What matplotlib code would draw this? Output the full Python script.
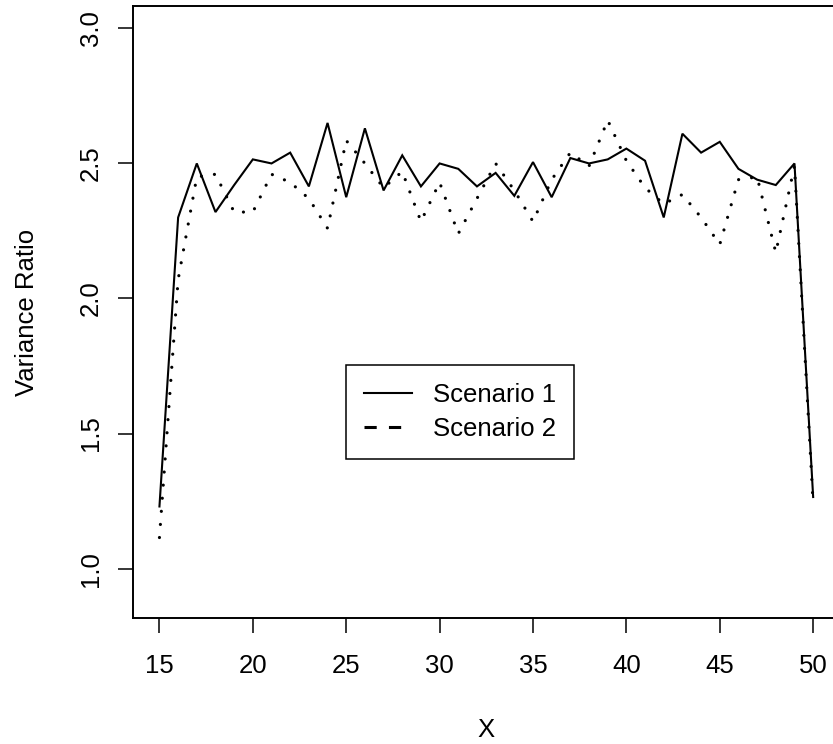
import matplotlib
matplotlib.use('Agg')
import matplotlib.pyplot as plt
from matplotlib.lines import Line2D

plt.rcParams['font.family'] = ['Liberation Sans', 'DejaVu Sans']

# data
x = list(range(15, 51))
scenario1 = [1.23, 2.30, 2.50, 2.32, 2.42, 2.515, 2.50, 2.54, 2.415, 2.65,
             2.375, 2.63, 2.40, 2.53, 2.415, 2.50, 2.48, 2.415, 2.465, 2.38,
             2.505, 2.375, 2.52, 2.50, 2.515, 2.555, 2.51, 2.30, 2.61, 2.54,
             2.58, 2.48, 2.44, 2.42, 2.50, 1.265]
scenario2 = [1.115, 2.07, 2.45, 2.46, 2.32, 2.32, 2.46, 2.43, 2.37, 2.26,
             2.585, 2.50, 2.41, 2.47, 2.285, 2.43, 2.24, 2.37, 2.50, 2.40,
             2.285, 2.44, 2.54, 2.49, 2.66, 2.51, 2.41, 2.35, 2.385, 2.30,
             2.20, 2.44, 2.45, 2.17, 2.49, 1.24]
xticks = [15, 20, 25, 30, 35, 40, 45, 50]
yticks = [1.0, 1.5, 2.0, 2.5, 3.0]
labels = ['Scenario 1', 'Scenario 2']

W, H = 833, 744
fs = 18.5
fig = plt.figure(figsize=(W / 100, H / 100), dpi=100)
ax = fig.add_axes([133.3 / W, (H - 618.3) / H, 706 / W, 612.6 / H])

ax.plot(x, scenario1, color='black', lw=1.5, solid_joinstyle='miter')
ax.plot(x, scenario2, color='black', lw=2.3,
        linestyle=(0, (0.01, 4.1)), dash_capstyle='round')

ax.set_xlim(13.6, 51.4)
ax.set_ylim(0.816, 3.084)
ax.set_xticks(xticks)
ax.set_xticklabels([str(v) for v in xticks])
ax.set_yticks(yticks)
ax.set_yticklabels(['%.1f' % v for v in yticks], rotation=90, va='center')

for s in ax.spines.values():
    s.set_linewidth(1.4)
ax.tick_params(direction='out', length=10.8, width=1.1, labelsize=fs)
ax.tick_params(axis='x', pad=15)
ax.tick_params(axis='y', pad=11)

ax.set_xlabel('X', fontsize=fs, labelpad=29)
ax.set_ylabel('Variance Ratio', fontsize=fs, labelpad=29)

handles = [Line2D([], [], color='black', lw=1.5),
           Line2D([], [], color='black', lw=2.2, linestyle=(0, (4, 4)))]
leg = ax.legend(handles, labels, loc='upper left',
                bbox_to_anchor=(346 / W, 1 - 365 / H),
                bbox_transform=fig.transFigure, borderaxespad=0,
                fontsize=fs, fancybox=False, framealpha=1,
                edgecolor='black', borderpad=0.7, labelspacing=0.4,
                handlelength=1.85, handletextpad=0.85)
leg.get_frame().set_linewidth(1.1)

fig.savefig('out.png', dpi=100)
